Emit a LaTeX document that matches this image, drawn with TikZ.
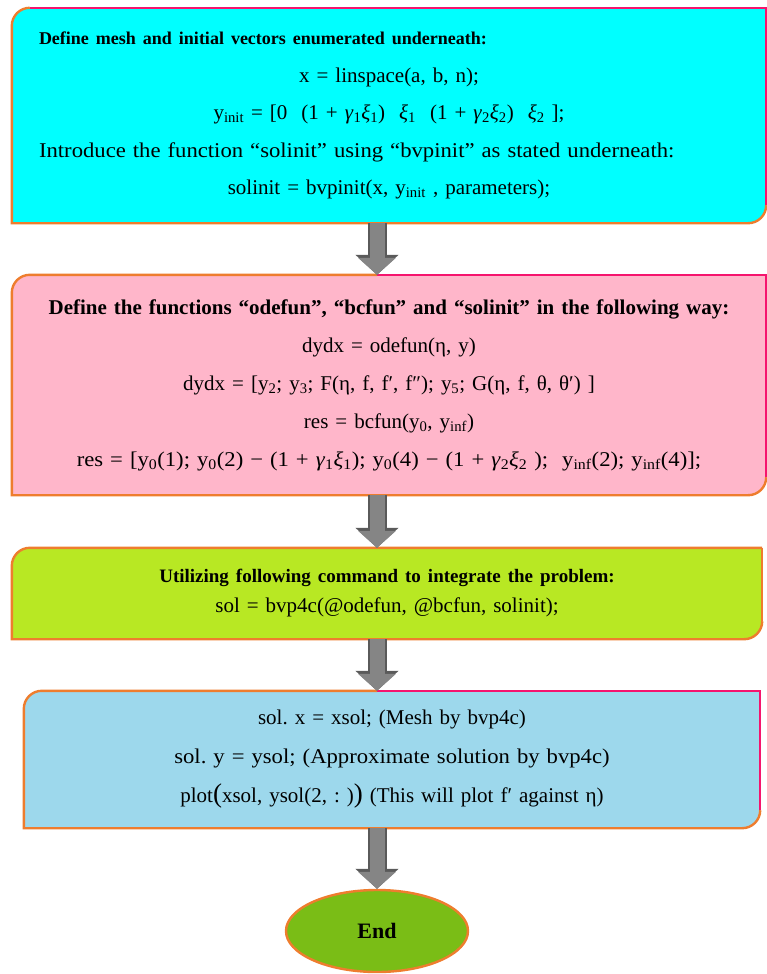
\documentclass[tikz,border=0pt]{standalone}
\usepackage{fontspec}
\setmainfont{Liberation Serif}
\usetikzlibrary{positioning,arrows.meta,shapes.geometric,backgrounds}

\definecolor{cyanfill}{HTML}{00FFFF}
\definecolor{pinkfill}{HTML}{FFB6CA}
\definecolor{limefill}{HTML}{B8E823}
\definecolor{bluefill}{HTML}{9DD8EC}
\definecolor{endfill}{HTML}{7ABD16}
\definecolor{edgeorange}{HTML}{EE7D2E}
\definecolor{edgepink}{HTML}{F5146E}
\definecolor{arrowgray}{HTML}{858585}
\definecolor{arrowdark}{HTML}{5A5A5A}

\newcommand{\sub}[1]{\textsubscript{#1}}
\newcommand{\bigparen}[1]{{\fontsize{27}{27}\selectfont #1}}
\newcommand{\wideline}{\addfontfeature{FakeStretch=1.08}}

% box with rounded top left and bottom right corners
% #1 node, #2 fill, #3 where the top edge changes colour, #4 colour of top right part
\newcommand{\diagbox}[4]{%
  \fill[#2] (#1.north east) -- ([xshift=18pt]#1.north west)
    arc[start angle=90,end angle=180,radius=18pt] -- (#1.south west)
    -- ([xshift=-18pt]#1.south east) arc[start angle=-90,end angle=0,radius=18pt] -- cycle;
  \draw[edgeorange,line width=2.4pt] (#3) -- ([xshift=18pt]#1.north west)
    arc[start angle=90,end angle=180,radius=18pt] -- (#1.south west)
    -- ([xshift=-18pt]#1.south east) arc[start angle=-90,end angle=0,radius=18pt];
  \draw[#4,line width=2.4pt] (#3) -- (#1.north east) -- ([yshift=18pt]#1.south east);
}

\tikzset{
  flowbox/.style={rectangle, inner sep=0pt, align=center, text width=#1},
  flowbox/.default=700pt,
  arrowedge/.style={arrowdark, line width=19pt, -{Triangle[width=42pt,length=20pt]}},
  flowarrow/.style={arrowgray, line width=15pt, -{Triangle[width=37pt,length=17pt]}}
}

\begin{document}
\frenchspacing
\begin{tikzpicture}[x=1pt,y=1pt]
\useasboundingbox (0,0) rectangle (766,-974);

% boxes
\node[flowbox, minimum width=754pt, minimum height=215pt, font=\fontsize{21}{37.5}\selectfont]
  (b1) at (389,-115.5) {%
  {\fontsize{18}{18}\selectfont\bfseries Define mesh and initial vectors enumerated underneath:}\hfill\null\\
  x = linspace(a, b, n);\\
  y\sub{init} = [0 \ (1 + \textit{γ}\sub{1}\textit{ξ}\sub{1}) \ \textit{ξ}\sub{1} \ (1 + \textit{γ}\sub{2}\textit{ξ}\sub{2}) \ \textit{ξ}\sub{2} ];\\
  {\wideline Introduce the function “solinit” using “bvpinit” as stated underneath:}\hfill\null\\
  solinit = bvpinit(x, y\sub{init} , parameters);};

\node[flowbox=740pt, minimum width=754pt, minimum height=220pt, font=\fontsize{21}{38}\selectfont]
  (b2) at (389,-385) {%
  {\fontsize{21}{21}\selectfont\bfseries Define the functions “odefun”, “bcfun” and “solinit” in the following way:}\\
  dydx = odefun(η, y)\\
  dydx = [y\sub{2}; y\sub{3}; F(η, f, f′, f″); y\sub{5}; G(η, f, θ, θ′) ]\\
  res = bcfun(y\sub{0}, y\sub{inf})\\
  {\wideline res = [y\sub{0}(1); y\sub{0}(2) − (1 + \textit{γ}\sub{1}\textit{ξ}\sub{1}); y\sub{0}(4) − (1 + \textit{γ}\sub{2}\textit{ξ}\sub{2} ); \ y\sub{inf}(2); y\sub{inf}(4)];}};

\node[flowbox, minimum width=750pt, minimum height=91pt, font=\fontsize{21}{30}\selectfont]
  (b3) at (387,-593.5) {%
  {\fontsize{19}{19}\selectfont\bfseries Utilizing following command to integrate the problem:}\\
  sol = bvp4c(@odefun, @bcfun, solinit);};

\node[flowbox, minimum width=736pt, minimum height=137pt, font=\fontsize{21}{39}\selectfont]
  (b4) at (392,-759.5) {%
  sol. x = xsol; (Mesh by bvp4c)\\
  {\wideline sol. y = ysol; (Approximate solution by bvp4c)}\\
  plot\bigparen{(}xsol, ysol(2, : )\bigparen{)} (This will plot f′ against η)};

\node[ellipse, fill=endfill, draw=edgeorange, line width=2.4pt, minimum width=182pt,
  minimum height=82pt, font=\bfseries\fontsize{22}{24}\selectfont] (e) at (377,-931) {End};

\begin{scope}[on background layer]
\diagbox{b1}{cyanfill}{[xshift=18pt]b1.north west}{edgepink}
\diagbox{b2}{pinkfill}{b2.north -| e.north}{edgepink}
\diagbox{b3}{limefill}{b3.north east}{edgeorange}
\diagbox{b4}{bluefill}{b4.north -| e.north}{edgepink}
\end{scope}

% arrows
\foreach \from/\to in {b1/b2, b2/b3, b3/b4} {
  \draw[arrowedge] (\from.south -| e.north) -- (\to.north -| e.north);
  \draw[flowarrow] (\from.south -| e.north) -- (\to.north -| e.north);
}
\draw[arrowedge] (b4.south -| e.north) -- (e.north);
\draw[flowarrow] (b4.south -| e.north) -- (e.north);
\end{tikzpicture}
\end{document}
